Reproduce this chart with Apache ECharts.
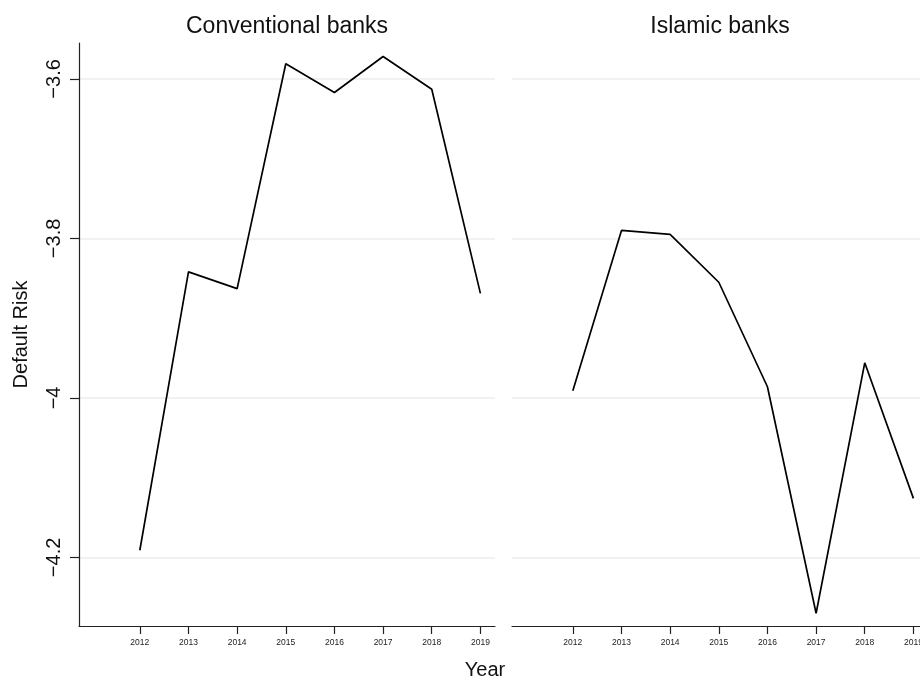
<!DOCTYPE html>
<html>
<head>
<meta charset="utf-8">
<script src="https://cdn.jsdelivr.net/npm/echarts@6/dist/echarts.min.js"></script>
<style>
html,body{margin:0;padding:0;background:#fff;}
#chart{width:920px;height:676px;}
</style>
</head>
<body>
<div id="chart"></div>
<script>
const years = [2012, 2013, 2014, 2015, 2016, 2017, 2018, 2019];
const conventional = [-4.191, -3.842, -3.863, -3.581, -3.617, -3.572, -3.613, -3.869];
const islamic = [-3.991, -3.790, -3.795, -3.855, -3.986, -4.270, -3.956, -4.126];
const yTicks = [-4.2, -4.0, -3.8, -3.6];
const panelTitles = ['Conventional banks', 'Islamic banks'];
const yAxisTitle = 'Default Risk';
const xAxisTitle = 'Year';

const FONT = '"Liberation Sans", Arial, Helvetica, sans-serif';
const yMin = -4.286, yMax = -3.555;
const xMin = 2010.75, xMax = 2019.3;

function pairs(vals) { return years.map((y, i) => [y, vals[i]]); }
function fmtY(v) {
  const s = String(Math.round(v * 10) / 10);
  return s.replace('-', '\u2212');
}

const gridStyle = { color: '#ececec', width: 1.5 };

const chart = echarts.init(document.getElementById('chart'), null, { renderer: 'canvas' });
chart.setOption({
  animation: false,
  backgroundColor: '#ffffff',
  title: [
    { text: panelTitles[0], left: 282, top: 10, textAlign: 'center',
      textStyle: { fontFamily: FONT, fontSize: 23, fontWeight: 'normal', color: '#111' } },
    { text: panelTitles[1], left: 715, top: 10, textAlign: 'center',
      textStyle: { fontFamily: FONT, fontSize: 23, fontWeight: 'normal', color: '#111' } },
    { text: xAxisTitle, left: 480, top: 655, textAlign: 'center',
      textStyle: { fontFamily: FONT, fontSize: 20, fontWeight: 'normal', color: '#111' } }
  ],
  grid: [
    { left: 79, top: 43, width: 416, height: 583, outerBoundsMode: 'none', containLabel: false },
    { left: 512, top: 43, width: 416, height: 583, outerBoundsMode: 'none', containLabel: false }
  ],
  xAxis: [0, 1].map(g => ({
    type: 'value', gridIndex: g, min: xMin, max: xMax,
    axisLine: { show: true, onZero: false, lineStyle: { color: '#222', width: 1.2 } },
    axisTick: { show: true, customValues: years, length: 8, lineStyle: { color: '#222', width: 1.2 } },
    axisLabel: { show: true, customValues: years, margin: 12, fontSize: 8.5, fontFamily: FONT, color: '#222',
      formatter: v => String(v) },
    splitLine: { show: false }
  })),
  yAxis: [
    {
      type: 'value', gridIndex: 0, min: yMin, max: yMax,
      name: yAxisTitle, nameLocation: 'middle', nameRotate: 90, nameGap: 48,
      nameTextStyle: { fontFamily: FONT, fontSize: 20, color: '#111' },
      axisLine: { show: true, lineStyle: { color: '#222', width: 1.2 } },
      axisTick: { show: true, customValues: yTicks, length: 9, lineStyle: { color: '#222', width: 1.2 } },
      axisLabel: { show: true, customValues: yTicks, rotate: 90, margin: 15, fontSize: 20, fontFamily: FONT,
        color: '#111', formatter: fmtY },
      splitLine: { show: true, customValues: yTicks, lineStyle: gridStyle }
    },
    {
      type: 'value', gridIndex: 1, min: yMin, max: yMax,
      axisLine: { show: false },
      axisTick: { show: false, customValues: yTicks },
      axisLabel: { show: false, customValues: yTicks },
      splitLine: { show: true, customValues: yTicks, lineStyle: gridStyle }
    }
  ],
  series: [
    { type: 'line', xAxisIndex: 0, yAxisIndex: 0, data: pairs(conventional), showSymbol: false,
      lineStyle: { color: '#000', width: 1.7 } },
    { type: 'line', xAxisIndex: 1, yAxisIndex: 1, data: pairs(islamic), showSymbol: false,
      lineStyle: { color: '#000', width: 1.7 } }
  ]
});
</script>
</body>
</html>
